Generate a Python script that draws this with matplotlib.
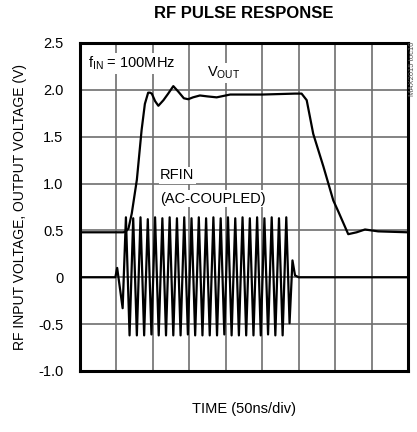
import matplotlib
matplotlib.use("Agg")
import matplotlib.pyplot as plt
from matplotlib import font_manager

names = {f.name for f in font_manager.fontManager.ttflist}
FONT = 'Liberation Sans Narrow' if 'Liberation Sans Narrow' in names else 'Liberation Sans'
plt.rcParams['font.family'] = [FONT, 'DejaVu Sans']
plt.rcParams['mathtext.fontset'] = 'custom'
plt.rcParams['mathtext.rm'] = FONT

# ---- data (time in divisions of 50 ns, voltage in V) ----
vout_t = [0, 1.19, 1.26, 1.33, 1.42, 1.56, 1.69, 1.78, 1.87, 1.92, 1.97, 2.06, 2.15, 2.29,
          2.42, 2.56, 2.7, 2.85, 2.97, 3.1, 3.29, 3.5, 3.75, 4.12, 5.0, 5.9, 6.08,
          6.22, 6.40, 6.68, 6.95, 7.09, 7.36, 7.59, 7.82, 8.18, 9.0]
vout_v = [0.48, 0.48, 0.49, 0.52, 0.68, 1.04, 1.57, 1.85, 1.97, 1.97, 1.96, 1.88, 1.83, 1.89,
          1.96, 2.04, 1.98, 1.91, 1.90, 1.92, 1.94, 1.93, 1.92, 1.95, 1.95, 1.96, 1.96,
          1.89, 1.53, 1.18, 0.82, 0.70, 0.46, 0.48, 0.51, 0.49, 0.48]

rf_t = [0, 0.97, 1.02, 1.17,
        1.26, 1.36, 1.46, 1.56, 1.66, 1.76, 1.86, 1.96, 2.06, 2.16, 2.26, 2.36, 2.46, 2.56, 2.66,
        2.76, 2.86, 2.96, 3.06, 3.16, 3.26, 3.36, 3.46, 3.56, 3.66, 3.76, 3.86, 3.96, 4.06, 4.16,
        4.26, 4.36, 4.46, 4.56, 4.66, 4.76, 4.86, 4.96, 5.06, 5.16, 5.26, 5.36, 5.46, 5.56, 5.66,
        5.75, 5.83, 5.90, 6.0, 9.0]
rf_v = [0.0, 0.0, 0.10, -0.33,
        0.64, -0.62, 0.63, -0.62, 0.64, -0.62, 0.62, -0.61, 0.64, -0.62, 0.63, -0.62, 0.64, -0.62, 0.63,
        -0.62, 0.64, -0.61, 0.63, -0.62, 0.64, -0.62, 0.63, -0.62, 0.64, -0.62, 0.63, -0.61, 0.64, -0.62,
        0.63, -0.62, 0.64, -0.62, 0.63, -0.62, 0.64, -0.62, 0.63, -0.61, 0.64, -0.62, 0.63, -0.62, 0.64,
        -0.49, 0.18, 0.02, 0.0, 0.0]

y_ticks = [-1.0, -0.5, 0, 0.5, 1.0, 1.5, 2.0, 2.5]
y_labels = ['-1.0', '-0.5', '0', '0.5', '1.0', '1.5', '2.0', '2.5']
x_grid = [0, 1, 2, 3, 4, 5, 6, 7, 8, 9]

fig = plt.figure(figsize=(4.17, 4.32), dpi=100)
ax = fig.add_axes([80/417, 1 - 371/432, 328/417, 328/432])
ax.set_xlim(0, 9)
ax.set_ylim(-1.0, 2.5)

for x in x_grid:
    ax.axvline(x, color='#6e6e6e', lw=1.2, zorder=1)
for y in y_ticks:
    ax.axhline(y, color='#6e6e6e', lw=1.2, zorder=1)

ax.plot(rf_t, rf_v, color='black', lw=1.6, zorder=3)
ax.plot(vout_t, vout_v, color='black', lw=1.6, zorder=3)

ax.set_xticks([])
ax.set_yticks(y_ticks)
ax.set_yticklabels(y_labels, fontsize=10.5)
ax.tick_params(axis='y', length=0, pad=12)
for s in ax.spines.values():
    s.set_linewidth(2.2)
    s.set_zorder(5)

box = dict(facecolor='white', edgecolor='none', pad=1.0)
ax.text(0.22, 2.28, r'f$_{\mathrm{IN}}$ = 100MHz', fontsize=10.5, ha='left', va='center', bbox=box, zorder=4)
ax.text(3.49, 2.18, r'V$_{\mathrm{OUT}}$', fontsize=10.5, ha='left', va='center', bbox=box, zorder=4)
ax.text(2.2, 1.09, 'RFIN', fontsize=10.5, ha='left', va='center', bbox=box, zorder=4)
ax.text(2.2, 0.84, '(AC-COUPLED)', fontsize=10.5, ha='left', va='center', bbox=box, zorder=4)

fig.text(244/417, 1 - 14/432, 'RF PULSE RESPONSE', fontsize=12, fontweight='bold',
         ha='center', va='center')
fig.text(244/417, 1 - 409/432, 'TIME (50ns/div)', fontsize=10.5, ha='center', va='center')
fig.text(20/417, 1 - 207/432, 'RF INPUT VOLTAGE, OUTPUT VOLTAGE (V)', fontsize=10,
         rotation=90, ha='center', va='center')
fig.text(413/417, 1 - 42/432, 'MAX2015 toc10', fontsize=5.5, color='#555555',
         rotation=90, ha='center', va='top')

fig.savefig('out.png', dpi=100)
